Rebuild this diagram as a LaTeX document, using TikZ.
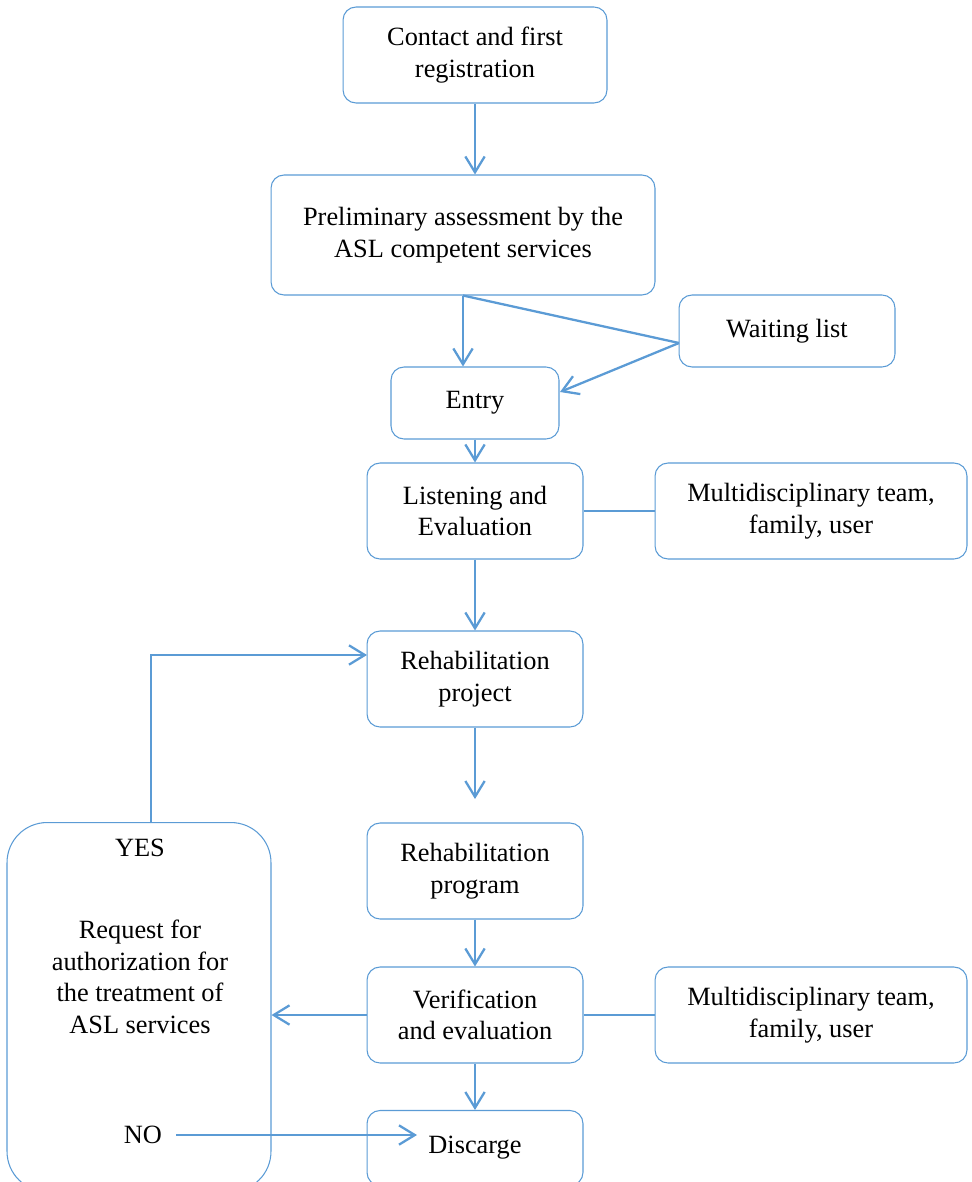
\documentclass[tikz,border=0pt]{standalone}
\usepackage{fontspec}
\setmainfont{Liberation Serif}
\usetikzlibrary{arrows.meta}

\definecolor{flowblue}{RGB}{91,155,213}

\tikzstyle{stepbox} = [draw=flowblue, line width=0.6pt, rounded corners=0.26cm, align=center, inner sep=0pt, font=\fontsize{15}{18}\selectfont]
\tikzstyle{label} = [align=center, inner sep=0pt, font=\fontsize{15}{18}\selectfont]
\tikzstyle{link} = [draw=flowblue, line width=1.3pt]
\tikzstyle{flow} = [link, -{Straight Barb[length=9pt,width=11pt]}]

\begin{document}
\begin{tikzpicture}[x=0.02cm, y=-0.02cm]
            \useasboundingbox (0,0) rectangle (972,1182);

            \node[stepbox, minimum width=5.28cm, minimum height=1.92cm] (contact)   at (475,  55)   {Contact and first\\registration};
            \node[stepbox, minimum width=7.68cm, minimum height=2.4cm]  (prelim)    at (463, 235)   {Preliminary assessment by the\\ASL competent services};
            \node[stepbox, minimum width=4.32cm, minimum height=1.44cm] (waiting)   at (787, 331)   {Waiting list};
            \node[stepbox, minimum width=3.36cm, minimum height=1.44cm] (entry)     at (475, 403)   {Entry};
            \node[stepbox, minimum width=4.32cm, minimum height=1.92cm] (listen)    at (475, 511)   {Listening and\\Evaluation};
            \node[stepbox, minimum width=6.24cm, minimum height=1.92cm] (team1)     at (811, 511)   {Multidisciplinary team,\\family, user};
            \node[stepbox, minimum width=4.32cm, minimum height=1.92cm] (project)   at (475, 679)   {Rehabilitation\\project};
            \node[stepbox, minimum width=4.32cm, minimum height=1.92cm] (program)   at (475, 871)   {Rehabilitation\\program};
            \node[stepbox, minimum width=4.32cm, minimum height=1.92cm] (verify)    at (475,1015)   {Verification\\and evaluation};
            \node[stepbox, minimum width=6.24cm, minimum height=1.92cm] (team2)     at (811,1015)   {Multidisciplinary team,\\family, user};
            \node[stepbox, minimum width=4.32cm, minimum height=1.5cm]  (discarge)  at (475,1148)   {Discarge};
            \node[stepbox, minimum width=5.28cm, minimum height=7.38cm, rounded corners=0.8cm] (request) at (139,1007) {};

            \node[label] (yes)      at (140, 848)   {YES};
            \node[label] (reqtext)  at (140, 977)   {Request for\\authorization for\\the treatment of\\ASL services};
            \node[label] (no)       at (143,1135)   {NO};

            \coordinate (wl)        at (679, 343);
            \coordinate (entryin)   at (560, 392);
            \coordinate (projend)   at (475, 799);
            \coordinate (loopstart) at (151, 823);
            \coordinate (projin)    at (367, 655);
            \coordinate (noend)     at (417,1135);

            \draw[flow] (contact.south) -- (contact.south |- prelim.north);
            \draw[flow] (prelim.south) -- (prelim.south |- entry.north);
            \draw[link] (prelim.south) -- (wl);
            \draw[flow] (wl) -- (entryin);
            \draw[flow] (entry.south) -- (listen.north);
            \draw[link] (listen.east) -- (team1.west);
            \draw[flow] (listen.south) -- (project.north);
            \draw[flow] (project.south) -- (projend);
            \draw[flow] (program.south) -- (verify.north);
            \draw[flow] (verify.west) -- (request.east |- verify.west);
            \draw[link] (verify.east) -- (team2.west);
            \draw[flow] (verify.south) -- (discarge.north);
            \draw[flow] (loopstart) |- (projin);
            \draw[flow, shorten <=8pt] (no.east) -- (noend);
        \end{tikzpicture}
\end{document}
